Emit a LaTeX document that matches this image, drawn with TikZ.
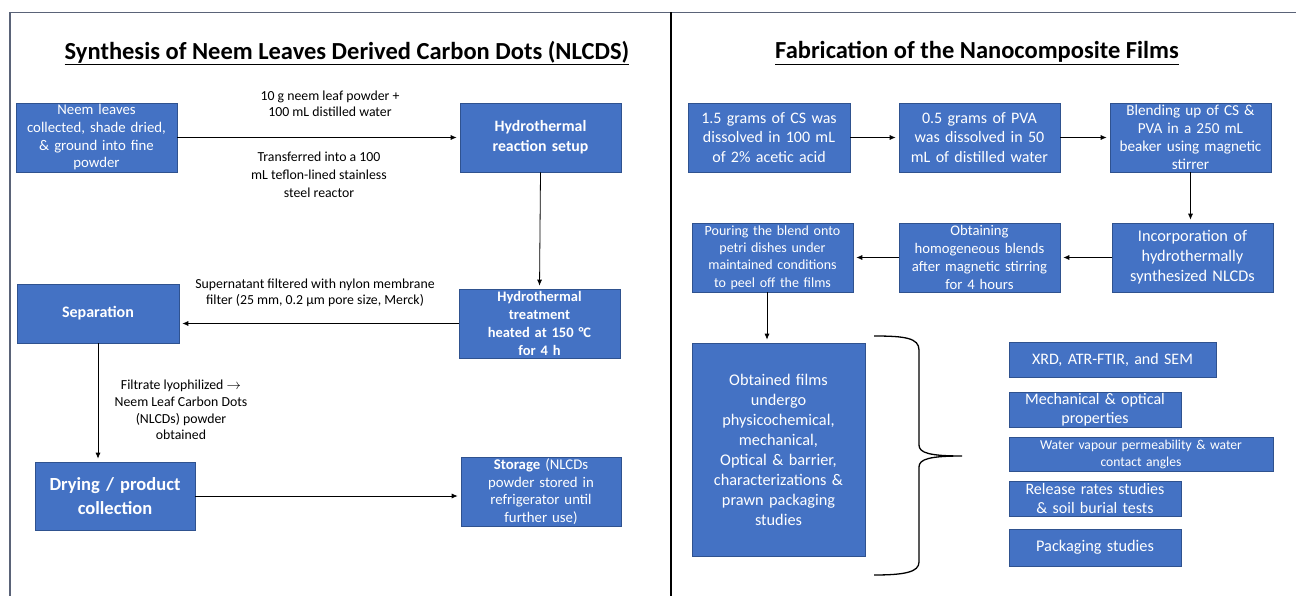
\documentclass[tikz,border=0pt]{standalone}
\usepackage{fontspec}
\setmainfont{Carlito}
\usetikzlibrary{arrows.meta}
\definecolor{boxblue}{HTML}{4472C4}
\definecolor{boxline}{HTML}{2F528F}
\definecolor{framec}{HTML}{5A6378}
\tikzset{
  box/.style={draw=boxline, line width=0.6pt, fill=boxblue, text=white, align=center, inner sep=0pt},
  lbl/.style={text=black, align=center, inner sep=0pt},
  arr/.style={-{Latex[length=6pt,width=5pt]}, line width=0.8pt, shorten >=3pt},
  ttl/.style={font=\bfseries\fontsize{24.5}{28}\selectfont, inner sep=0pt},
}
\newcommand\fs[2]{\fontsize{#1}{#2}\selectfont}
\begin{document}
\begin{tikzpicture}[x=1pt,y=-1pt]
\useasboundingbox (0,0) rectangle (1296,596);
% frames
\draw[framec, line width=1.2pt] (10,596) -- (10,12.5) -- (1296,12.5);
\draw[black, line width=2pt] (671,12.5) -- (671,596);
% titles
\node[ttl] (t1) at (347,53) {\underline{Synthesis of Neem Leaves Derived Carbon Dots (NLCDS)}};
\node[ttl] (t2) at (977,53) {\underline{Fabrication of the Nanocomposite Films}};
% left panel
\node[box, minimum width=161pt, minimum height=69pt, text width=157pt, font=\fs{14.8}{17.7}] (A) at (96.5,137.5) {Neem leaves\\collected, shade dried,\\\& ground into fine\\powder};
\node[box, minimum width=161pt, minimum height=69pt, text width=155pt, font=\bfseries\fs{15.8}{20}] (B) at (540.5,137.5) {Hydrothermal\\reaction setup};
\node[box, minimum width=161pt, minimum height=69pt, text width=157pt, font=\bfseries\fs{14.5}{18.3}] (C) at (539.5,323.5) {Hydrothermal\\treatment\\heated at 150 °C\\for 4 h};
\node[box, minimum width=162pt, minimum height=59pt, text width=155pt, font=\bfseries\fs{16}{19}] (D) at (98,313.5) {Separation};
\node[box, minimum width=160pt, minimum height=68pt, text width=157pt, font=\bfseries\fs{18.5}{23.5}] (E) at (115,496) {Drying / product\\collection};
\node[box, minimum width=160pt, minimum height=69pt, text width=157pt, font=\fs{14.8}{17.7}] (F) at (541,491.5) {\textbf{Storage} (NLCDs\\powder stored in\\refrigerator until\\further use)};
\node[lbl, font=\fs{13.8}{15.5}] (l1) at (330,104) {10 g neem leaf powder +\\100 mL distilled water};
\node[lbl, font=\fs{13.8}{18}] (l2) at (319,175) {Transferred into a 100\\mL teflon-lined stainless\\steel reactor};
\node[lbl, font=\fs{13.8}{16.5}] (l3) at (315,293) {Supernatant filtered with nylon membrane\\filter (25 mm, 0.2 µm pore size, Merck)};
\node[lbl, font=\fs{13.8}{16.8}] (l4) at (181,410) {Filtrate lyophilized $\rightarrow$\\Neem Leaf Carbon Dots\\(NLCDs) powder\\obtained};
\draw[arr] (A.east) -- (B.west);
\draw[arr] (B.south) -- (C.north);
\draw[arr] (C.west) -- (C.west -| D.east);
\draw[arr] (D.south) -- (D.south |- E.north);
\draw[arr] (E.east) -- (E.east -| F.west);
% right panel
\node[box, minimum width=162pt, minimum height=69pt, text width=158pt, font=\fs{16}{19.5}] (G) at (769,137.5) {1.5 grams of CS was\\dissolved in 100 mL\\of 2\% acetic acid};
\node[box, minimum width=161pt, minimum height=69pt, text width=157pt, font=\fs{16}{19.5}] (H) at (979.5,137.5) {0.5 grams of PVA\\was dissolved in 50\\mL of distilled water};
\node[box, minimum width=161pt, minimum height=69pt, text width=159pt, font=\fs{15.2}{18}] (I) at (1190.5,137.5) {Blending up of CS \&\\PVA in a 250 mL\\beaker using magnetic\\stirrer};
\node[box, minimum width=161pt, minimum height=69pt, text width=157pt, font=\fs{16.3}{20}] (J) at (1192.5,257.5) {Incorporation of\\hydrothermally\\synthesized NLCDs};
\node[box, minimum width=161pt, minimum height=69pt, text width=159pt, font=\fs{14.7}{18}] (K) at (979.5,257.5) {Obtaining\\homogeneous blends\\after magnetic stirring\\for 4 hours};
\node[box, minimum width=161pt, minimum height=69pt, text width=159pt, font=\fs{14}{17.3}] (L) at (772.5,257.5) {Pouring the blend onto\\petri dishes under\\maintained conditions\\to peel off the films};
\node[box, minimum width=173pt, minimum height=213pt, text width=169pt, font=\fs{16.3}{20}] (M) at (778.5,449.5) {Obtained films\\undergo\\physicochemical,\\mechanical,\\Optical \& barrier,\\characterizations \&\\prawn packaging\\studies};
\node[box, minimum width=207pt, minimum height=35pt, text width=200pt, font=\fs{16}{19}] (N) at (1112.5,359.5) {XRD, ATR-FTIR, and SEM};
\node[box, minimum width=172pt, minimum height=35pt, text width=170pt, font=\fs{16}{19}] (O) at (1095,409.5) {Mechanical \& optical\\properties};
\node[box, minimum width=264pt, minimum height=34pt, text width=258pt, font=\fs{13.6}{17}] (P) at (1141,454) {Water vapour permeability \& water\\contact angles};
\node[box, minimum width=172pt, minimum height=35pt, text width=170pt, font=\fs{16}{19}] (Q) at (1095,498.5) {Release rates studies\\\& soil burial tests};
\node[box, minimum width=172pt, minimum height=37pt, text width=170pt, font=\fs{16.3}{19}] (R) at (1095,547.5) {Packaging studies};
\draw[arr] (G.east) -- (H.west);
\draw[arr] (H.east) -- (I.west);
\draw[arr] (I.south) -- (I.south |- J.north);
\draw[arr] (J.west) -- (J.west -| K.east);
\draw[arr] (K.west) -- (K.west -| L.east);
\draw[arr] ([xshift=-5.5pt]L.south) -- ([xshift=-5.5pt]L.south |- M.north);
% brace
\draw[line width=1.3pt] (874,336) .. controls (905,336) and (919,338) .. (919,350) -- (919,445) .. controls (919,453) and (930,456) .. (962,456) .. controls (930,456) and (919,459) .. (919,467) -- (919,562) .. controls (919,572) and (905,575) .. (874,575);
\end{tikzpicture}
\end{document}
